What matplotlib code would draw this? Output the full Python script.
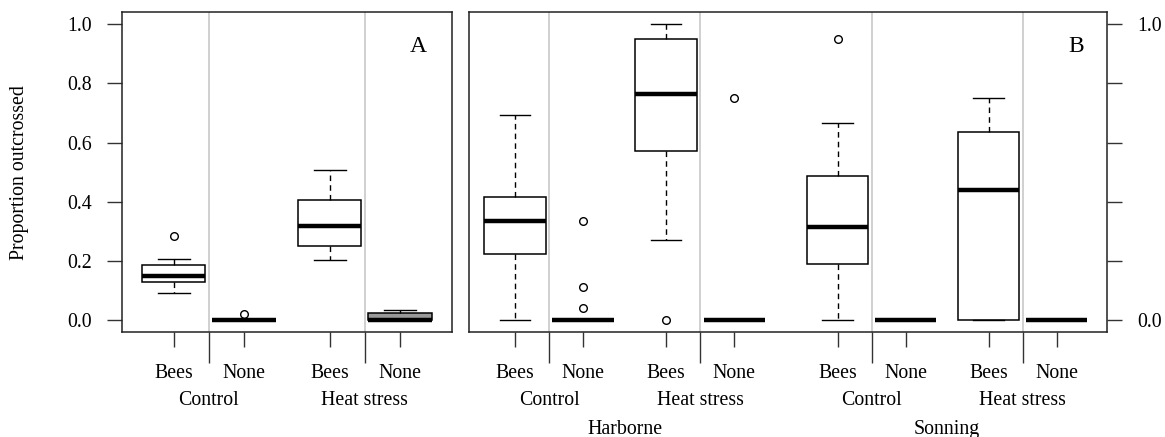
import matplotlib
matplotlib.use("Agg")
import matplotlib.pyplot as plt
from matplotlib.ticker import FixedLocator
import matplotlib.transforms as mtransforms

plt.rcParams['font.family'] = ['Liberation Serif', 'DejaVu Serif']

# ---------------- data (box statistics) ----------------
# Panel A
a_cats = ["Bees", "None", "Bees", "None"]
a_groups = ["Control", "Heat stress"]
a_whislo = [0.093, 0.0, 0.203, 0.0]
a_q1 = [0.130, 0.0, 0.250, 0.0]
a_med = [0.148, 0.0, 0.317, 0.0]
a_q3 = [0.187, 0.0, 0.407, 0.024]
a_whishi = [0.207, 0.0, 0.507, 0.035]
a_fliers = [[0.286], [0.020], [], []]
a_fill = ["white", "white", "white", "#999999"]

# Panel B
b_cats = ["Bees", "None", "Bees", "None", "Bees", "None", "Bees", "None"]
b_groups = ["Control", "Heat stress", "Control", "Heat stress"]
b_sites = ["Harborne", "Sonning"]
b_whislo = [0.0, 0.0, 0.270, 0.0, 0.0, 0.0, 0.0, 0.0]
b_q1 = [0.224, 0.0, 0.572, 0.0, 0.189, 0.0, 0.0, 0.0]
b_med = [0.334, 0.0, 0.765, 0.0, 0.315, 0.0, 0.440, 0.0]
b_q3 = [0.417, 0.0, 0.950, 0.0, 0.488, 0.0, 0.636, 0.0]
b_whishi = [0.692, 0.0, 1.0, 0.0, 0.666, 0.0, 0.749, 0.0]
b_fliers = [[], [0.334, 0.111, 0.040], [0.0], [0.75], [0.950], [], [], []]

a_pos = [1, 2, 3.22, 4.22]
b_pos = [1, 2, 3.22, 4.22, 5.74, 6.74, 7.96, 8.96]

W, H = 1165, 437
fig = plt.figure(figsize=(W / 100, H / 100), dpi=100)

def px_axes(x0, x1, y0, y1):
    return fig.add_axes([x0 / W, 1 - y1 / H, (x1 - x0) / W, (y1 - y0) / H])

axA = px_axes(122.3, 451.7, 12.3, 332)
axB = px_axes(469, 1106.7, 12.3, 332)

FS = 14.3

def draw(ax, pos, whislo, q1, med, q3, whishi, fliers, fills):
    stats = []
    for i in range(len(pos)):
        stats.append(dict(whislo=whislo[i], q1=q1[i], med=med[i], q3=q3[i],
                          whishi=whishi[i], fliers=fliers[i]))
    bp = ax.bxp(stats, positions=pos, widths=0.9, patch_artist=True,
                showfliers=True, manage_ticks=False,
                boxprops=dict(edgecolor='black', linewidth=1.1),
                medianprops=dict(color='black', linewidth=3.2, solid_capstyle='butt'),
                whiskerprops=dict(color='black', linewidth=1.0, linestyle=(0, (4, 3))),
                capprops=dict(color='black', linewidth=1.0),
                flierprops=dict(marker='o', markersize=5.5, markerfacecolor='none',
                                markeredgecolor='black', markeredgewidth=1.0))
    for patch, c in zip(bp['boxes'], fills):
        patch.set_facecolor(c)
    for cap in bp['caps']:
        xd = cap.get_xdata()
        c = (xd[0] + xd[1]) / 2
        cap.set_xdata([c - 0.225, c + 0.225])
    return bp

draw(axA, a_pos, a_whislo, a_q1, a_med, a_q3, a_whishi, a_fliers, a_fill)
draw(axB, b_pos, b_whislo, b_q1, b_med, b_q3, b_whishi, b_fliers, ["white"] * 8)

axA.set_xlim(0.269, 4.955)
axB.set_xlim(0.324, 9.695)
for ax in (axA, axB):
    ax.set_ylim(-0.0395, 1.0395)
    for s in ax.spines.values():
        s.set_linewidth(1.1)
        s.set_color('#222222')

# separators between Bees / None within treatment groups
a_sep = [(a_pos[i] + a_pos[i + 1]) / 2 for i in range(0, 4, 2)]
b_sep = [(b_pos[i] + b_pos[i + 1]) / 2 for i in range(0, 8, 2)]
for ax, seps in ((axA, a_sep), (axB, b_sep)):
    for s in seps:
        ax.axvline(s, color='#c8c8c8', linewidth=1.2, zorder=0)

# x ticks
for ax, pos, seps, cats in ((axA, a_pos, a_sep, a_cats), (axB, b_pos, b_sep, b_cats)):
    ax.set_xticks(pos)
    ax.set_xticklabels([])
    ax.xaxis.set_minor_locator(FixedLocator(seps))
    ax.tick_params(axis='x', which='major', length=11, width=1.0, color='#333333')
    ax.tick_params(axis='x', which='minor', length=22.5, width=1.0, color='#333333')
    tr = mtransforms.blended_transform_factory(ax.transData, ax.transAxes)
    for p, c in zip(pos, cats):
        ax.text(p, -0.1448, c, transform=tr, ha='center', va='baseline', fontsize=FS)

trA = mtransforms.blended_transform_factory(axA.transData, axA.transAxes)
for s, g in zip(a_sep, a_groups):
    axA.text(s, -0.2283, g, transform=trA, ha='center', va='baseline', fontsize=FS)
trB = mtransforms.blended_transform_factory(axB.transData, axB.transAxes)
for s, g in zip(b_sep, b_groups):
    axB.text(s, -0.2283, g, transform=trB, ha='center', va='baseline', fontsize=FS)
for i, site in enumerate(b_sites):
    c = (b_sep[2 * i] + b_sep[2 * i + 1]) / 2
    axB.text(c, -0.318, site, transform=trB, ha='center', va='baseline', fontsize=FS)

# y axes
yt = [0.0, 0.2, 0.4, 0.6, 0.8, 1.0]
axA.set_yticks(yt)
axA.set_yticklabels([f"{v:.1f}" for v in yt], fontsize=FS)
axA.tick_params(axis='y', length=11, width=1.0, color='#333333', pad=11)
axA.set_ylabel("Proportion outcrossed", fontsize=FS)
axA.yaxis.set_label_coords(-0.2832, 0.5)

axB.set_yticks(yt)
axB.yaxis.tick_right()
axB.set_yticklabels(["0.0", "", "", "", "", "1.0"], fontsize=FS)
axB.tick_params(axis='y', length=11, width=1.0, color='#333333', pad=11)

axA.text(0.8977, 0.8768, "A", transform=axA.transAxes, ha='center', va='baseline', fontsize=17)
axB.text(0.9519, 0.8768, "B", transform=axB.transAxes, ha='center', va='baseline', fontsize=17)

fig.savefig("out.png", dpi=100)
